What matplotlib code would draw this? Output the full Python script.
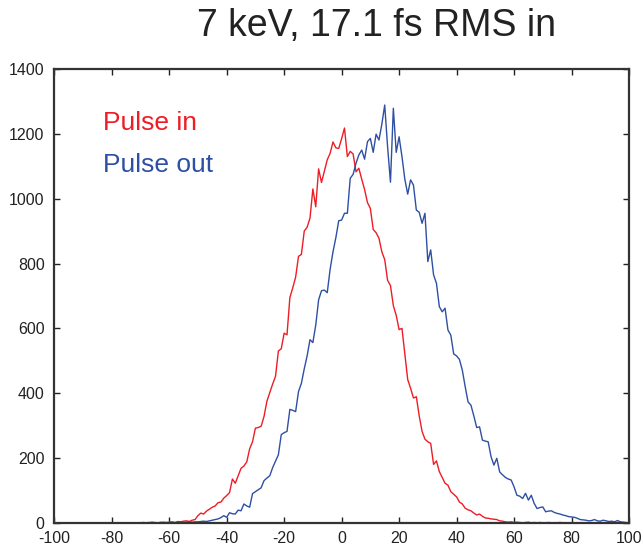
import numpy as np
import matplotlib
matplotlib.use("Agg")
import matplotlib.pyplot as plt

plt.rcParams['font.family'] = ['Liberation Sans Narrow', 'Liberation Sans', 'DejaVu Sans']
plt.rcParams['axes.unicode_minus'] = False

# time axis (fs), 1 fs bins
t = np.arange(-100, 101)

pulse_in = [
    0, 0, 0, 0, 0, 0, 0, 0, 0, 0,
    0, 0, 0, 0, 0, 0, 0, 0, 0, 0,
    0, 0, 0, 0, 0, 0, 0, 0, 0, 0,
    0, 1, 0, 0, 2, 1, 0, 1, 2, 1,          # -70
    2, 3, 1, 4, 3, 5, 6, 4, 8, 10,         # -60
    22, 30, 27, 36, 42, 48, 52, 62, 64, 76,  # -50
    84, 93, 135, 122, 145, 168, 175, 188, 228, 250,  # -40
    292, 294, 298, 328, 375, 402, 428, 452, 530, 537,  # -30
    585, 580, 695, 725, 758, 822, 828, 900, 912, 940,  # -20
    1030, 975, 1092, 1050, 1085, 1120, 1140, 1175, 1157, 1155,  # -10
    1185, 1218, 1130, 1146, 1138, 1083, 1094, 1060, 1028, 988,  # 0
    970, 905, 895, 878, 836, 812, 748, 732, 670, 640,  # 10
    596, 600, 520, 442, 415, 385, 389, 330, 282, 258,  # 20
    250, 245, 180, 191, 158, 140, 122, 116, 96, 88,  # 30
    80, 64, 58, 45, 40, 37, 30, 24, 27, 20,  # 40
    15, 14, 12, 11, 10, 6, 5, 3, 2, 3,  # 50
    1, 2, 1, 0, 1, 2, 0, 1, 0, 1,  # 60
    0, 0, 1, 0, 0, 0, 1, 0, 0, 0,  # 70
    0, 0, 0, 0, 0, 0, 0, 0, 0, 0,  # 80
    0, 0, 0, 0, 0, 0, 0, 0, 0, 0,  # 90
    0,
]

pulse_out = [
    0, 0, 0, 0, 0, 0, 0, 0, 0, 0,
    0, 0, 0, 0, 0, 0, 0, 0, 0, 0,
    0, 0, 0, 0, 0, 0, 0, 0, 0, 0,
    0, 0, 0, 1, 0, 0, 0, 1, 0, 0,          # -70
    0, 1, 0, 1, 2, 1, 2, 3, 2, 3,          # -60
    3, 4, 5, 4, 6, 8, 10, 12, 16, 22,      # -50
    17, 31, 28, 27, 39, 37, 58, 52, 48, 90,  # -40
    96, 102, 108, 130, 138, 145, 170, 190, 210, 272,  # -30
    278, 282, 350, 347, 343, 405, 430, 475, 515, 565,  # -20
    556, 610, 688, 716, 718, 710, 782, 836, 880, 932,  # -10
    934, 955, 955, 1063, 1075, 1109, 1135, 1150, 1122, 1176,  # 0
    1186, 1143, 1199, 1181, 1230, 1289, 1160, 1051, 1279, 1143,  # 10
    1191, 1130, 1060, 1014, 1058, 1042, 965, 958, 924, 955,  # 20
    806, 842, 765, 739, 667, 651, 662, 595, 579, 521,  # 30
    515, 504, 471, 420, 373, 363, 330, 294, 296, 255,  # 40
    252, 250, 204, 178, 199, 157, 148, 140, 135, 132,  # 50
    111, 85, 82, 75, 91, 70, 85, 60, 44, 47,  # 60
    49, 34, 36, 37, 32, 29, 27, 24, 22, 19,  # 70
    18, 17, 14, 10, 9, 8, 6, 7, 10, 6,  # 80
    5, 8, 6, 4, 5, 3, 7, 3, 2, 1,  # 90
    0,
]

xticks = np.arange(-100, 101, 20)
yticks = np.arange(0, 1401, 200)

red = '#ee1c25'
blue = '#2e4fa3'

fig = plt.figure(figsize=(6.44, 5.48), dpi=100)
ax = fig.add_axes([0.0842, 0.046, 0.8925, 0.828])

ax.plot(t, pulse_in, color=red, lw=1.0)
ax.plot(t, pulse_out, color=blue, lw=1.0)

ax.set_xlim(-100, 100)
ax.set_ylim(0, 1400)
ax.set_xticks(xticks)
ax.set_yticks(yticks)
ax.tick_params(direction='in', length=4, width=1.0, top=True, right=True,
               labelsize=11.5, colors='#222222')
ax.tick_params(axis='x', pad=6)
ax.tick_params(axis='y', pad=7)
for s in ax.spines.values():
    s.set_linewidth(1.6)
    s.set_color('#333333')

ax.text(-83, 1234, 'Pulse in', color=red, fontsize=19, va='center', ha='left')
ax.text(-83, 1104, 'Pulse out', color=blue, fontsize=19, va='center', ha='left')

fig.text(0.584, 0.952, '7 keV, 17.1 fs RMS in', fontsize=27, ha='center', va='center',
         color='#222222')

fig.savefig('out.png', dpi=100)
